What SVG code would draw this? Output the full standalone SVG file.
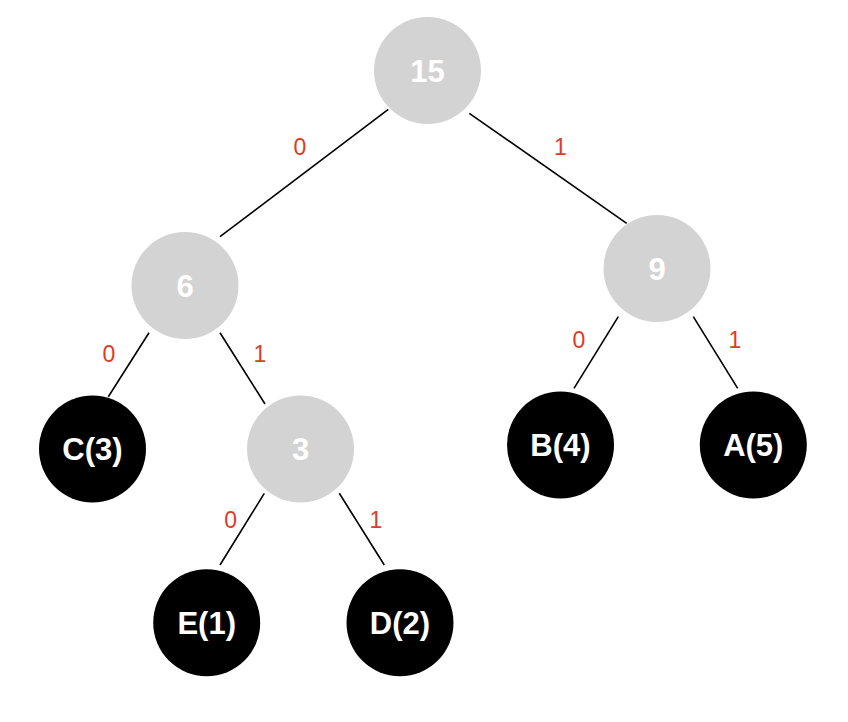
<svg xmlns="http://www.w3.org/2000/svg" width="848" height="722" viewBox="0 0 848 722">
<style>
.inner{fill:#d3d3d3}
.leaf{fill:#000}
.nt{fill:#fff;font-family:"Liberation Sans",Arial,Helvetica,sans-serif;font-weight:bold;font-size:31px;text-anchor:middle}
.edge{stroke:#000;stroke-width:1.6;fill:none}
.lbl{fill:#e03a26;font-family:"Liberation Sans",Arial,Helvetica,sans-serif;font-size:23px;text-anchor:middle}
</style>
<rect width="848" height="722" fill="#fff"/>
<g id="connectors">
<line class="edge" x1="388.3" y1="109.3" x2="220" y2="236.7"/>
<line class="edge" x1="469.3" y1="113.3" x2="626.7" y2="223.3"/>
<line class="edge" x1="149" y1="332.7" x2="108.3" y2="396.7"/>
<line class="edge" x1="220" y1="332.7" x2="265" y2="404"/>
<line class="edge" x1="618.3" y1="316.7" x2="574" y2="388.3"/>
<line class="edge" x1="693.3" y1="316.7" x2="737.7" y2="388.3"/>
<line class="edge" x1="264.3" y1="493.3" x2="220" y2="565"/>
<line class="edge" x1="339.3" y1="493.3" x2="384.3" y2="565"/>
<text class="lbl" x="300" y="155">0</text>
<text class="lbl" x="560.5" y="155">1</text>
<text class="lbl" x="109" y="361.5">0</text>
<text class="lbl" x="260" y="361.5">1</text>
<text class="lbl" x="579" y="347.5">0</text>
<text class="lbl" x="735" y="347.5">1</text>
<text class="lbl" x="230.7" y="527.5">0</text>
<text class="lbl" x="376" y="527.5">1</text>
</g>
<g id="n15"><circle class="inner" cx="427.5" cy="70.5" r="53.5"/><text class="nt" x="427.5" y="81.5">15</text></g>
<g id="n6"><circle class="inner" cx="185" cy="285.5" r="53.5"/><text class="nt" x="185" y="296.5">6</text></g>
<g id="n9"><circle class="inner" cx="657" cy="268.5" r="53.5"/><text class="nt" x="657" y="279.5">9</text></g>
<g id="nC"><circle class="leaf" cx="92.5" cy="449" r="53.5"/><text class="nt" x="92.5" y="460">C(3)</text></g>
<g id="n3"><circle class="inner" cx="300.5" cy="449" r="53.5"/><text class="nt" x="300.5" y="460">3</text></g>
<g id="nB"><circle class="leaf" cx="560.5" cy="445" r="53.5"/><text class="nt" x="560.5" y="456">B(4)</text></g>
<g id="nA"><circle class="leaf" cx="753.3" cy="445" r="53.5"/><text class="nt" x="753.3" y="456">A(5)</text></g>
<g id="nE"><circle class="leaf" cx="206.7" cy="622.7" r="53.5"/><text class="nt" x="206.7" y="633.7">E(1)</text></g>
<g id="nD"><circle class="leaf" cx="400" cy="622.7" r="53.5"/><text class="nt" x="400" y="633.7">D(2)</text></g>
</svg>
